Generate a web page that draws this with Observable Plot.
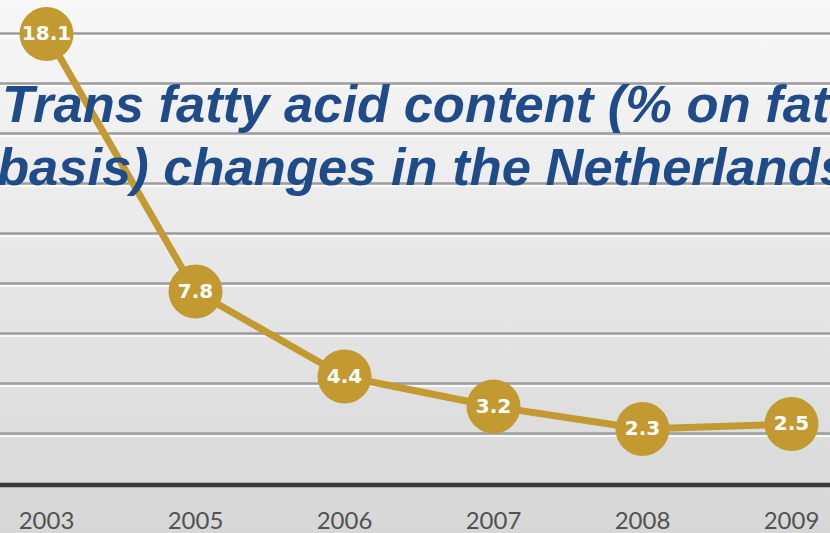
<!DOCTYPE html>
<html>
<head>
<meta charset="utf-8">
<script src="https://cdn.jsdelivr.net/npm/d3@7"></script>
<script src="https://cdn.jsdelivr.net/npm/@observablehq/plot@0.6"></script>
<style>
  html, body { margin: 0; padding: 0; background: #e6e6e6; }
  #chart { width: 830px; height: 533px; }
</style>
</head>
<body>
<div id="chart"></div>
<script>
const years = ["2003", "2005", "2006", "2007", "2008", "2009"];
const transFat = [18.1, 7.8, 4.4, 3.2, 2.3, 2.5];
const valueLabels = ["18.1", "7.8", "4.4", "3.2", "2.3", "2.5"];
const gridTicks = [2, 4, 6, 8, 10, 12, 14, 16, 18];
const titleLines = [
  "Trans fatty acid content (% on fat",
  "basis) changes in the Netherlands"
];

const data = years.map((year, i) => ({year, value: transFat[i], label: valueLabels[i]}));

const gold = "#c39a32";

const chart = Plot.plot({
  width: 830,
  height: 533,
  marginLeft: 0,
  marginRight: 0,
  marginTop: 33,
  marginBottom: 50,
  x: {type: "point", domain: years, range: [44, 793], padding: 0, label: null},
  y: {domain: [0, 18], axis: null},
  style: {
    background: "linear-gradient(to bottom, #f8f8f8 0%, #e6e6e6 55%, #d7d7d7 100%)",
    color: "#555",
    fontFamily: "Lato, sans-serif"
  },
  marks: [
    Plot.ruleY(gridTicks, {stroke: "#ffffff", strokeOpacity: 0.8, strokeWidth: 2, dy: 2.5}),
    Plot.ruleY(gridTicks, {stroke: "#9c9c9c", strokeWidth: 2.5}),
    Plot.ruleY([0], {stroke: "#3b3b3b", strokeWidth: 4.5, dy: 1.5}),
    Plot.axisX({tickSize: 0, tickPadding: 28, fontSize: 24, fill: "#525252", fontFamily: "Lato, sans-serif", label: null}),
    Plot.line(data, {x: "year", y: "value", stroke: gold, strokeWidth: 7, dy: 3}),
    Plot.dot(data, {x: "year", y: "value", r: 27, fill: gold, stroke: "none", dy: 3}),
    Plot.text(data, {x: "year", y: "value", text: "label", fill: "#ffffff", fontSize: 20, fontWeight: "bold", fontFamily: "DejaVu Sans, sans-serif", dy: 3})
  ]
});

const svg = d3.select(chart);
const titlePos = [[2, 122], [-3, 185]];
titleLines.forEach((t, i) => {
  svg.append("text")
    .attr("x", titlePos[i][0])
    .attr("y", titlePos[i][1])
    .attr("text-anchor", "start")
    .attr("font-family", "'Liberation Sans', Arial, sans-serif")
    .attr("font-weight", "bold")
    .attr("font-style", "italic")
    .attr("font-size", 52.5)
    .attr("fill", "#1f4b88")
    .text(t);
});

document.getElementById("chart").appendChild(chart);
</script>
</body>
</html>
